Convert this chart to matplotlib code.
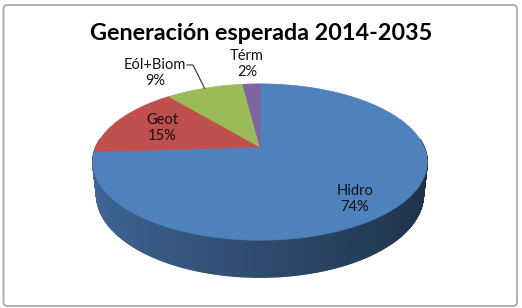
import numpy as np
import matplotlib.pyplot as plt
from matplotlib.patches import FancyBboxPatch
from matplotlib.collections import PolyCollection
from matplotlib.colors import to_rgb

titulo = 'Generación esperada 2014-2035'
fuentes = ['Hidro', 'Geot', 'Eól+Biom', 'Térm']
porcentajes = [74, 15, 9, 2]
colores = ['#4F81BD', '#C0504D', '#9BBB59', '#8064A2']

# posicao dos rotulos (pixels)
pos_rotulos = [(355, 199), (162, 128), (155, 73), (247, 64)]

# parametros da vista 3D
elev = np.radians(27.3)
dist = 4.62
escala = 758
espessura = 0.225
cx, cy = 260, 147


def projeta(x, y, z):
    s, c = np.sin(elev), np.cos(elev)
    prof = dist + y * c - z * s
    u = x / prof
    v = (y * s + z * c) / prof
    return cx + escala * u, cy - escala * v


fig = plt.figure(figsize=(5.22, 3.08), dpi=100)
ax = fig.add_axes([0, 0, 1, 1])
ax.set_xlim(0, 522)
ax.set_ylim(308, 0)
ax.axis('off')

# borda do grafico
borda = FancyBboxPatch((3.5, 5), 513.5, 301, boxstyle='round,pad=0,rounding_size=4',
                       facecolor='white', edgecolor='#a9a9a9', linewidth=1.3)
ax.add_patch(borda)

fracs = np.array(porcentajes, dtype=float) / sum(porcentajes)
acum = np.concatenate([[0], np.cumsum(fracs)])
ang_ini = np.radians(90 - 360 * acum[:-1])
ang_fim = np.radians(90 - 360 * acum[1:])

# paredes laterais
quads, cores_q, profs = [], [], []
for i in range(len(fuentes)):
    base = np.array(to_rgb(colores[i]))
    ts = np.linspace(ang_ini[i], ang_fim[i], max(int(abs(ang_fim[i] - ang_ini[i]) * 80), 3))
    for t1, t2 in zip(ts[:-1], ts[1:]):
        tm = (t1 + t2) / 2
        if np.sin(tm) > 0.1:
            continue
        pts = [projeta(np.cos(t1), np.sin(t1), 0), projeta(np.cos(t2), np.sin(t2), 0),
               projeta(np.cos(t2), np.sin(t2), -espessura), projeta(np.cos(t1), np.sin(t1), -espessura)]
        fator = 0.585 - 0.21 * np.cos(tm)
        quads.append(pts)
        cores_q.append(np.clip(base * fator, 0, 1))
        profs.append(np.sin(tm))

ordem = np.argsort(profs)[::-1]
paredes = PolyCollection([quads[k] for k in ordem], facecolors=[cores_q[k] for k in ordem],
                         edgecolors=[cores_q[k] for k in ordem], linewidths=1.0)
ax.add_collection(paredes)

# faces de cima
for i in range(len(fuentes)):
    ts = np.linspace(ang_ini[i], ang_fim[i], 200)
    xs, ys = projeta(np.cos(ts), np.sin(ts), 0 * ts)
    px = np.concatenate([[cx], xs])
    py = np.concatenate([[cy], ys])
    ax.fill(px, py, color=colores[i], linewidth=0.5, edgecolor=colores[i])

# rotulos
for i, nome in enumerate(fuentes):
    x, y = pos_rotulos[i]
    ax.text(x, y, f'{nome}\n{porcentajes[i]}%', ha='center', va='center',
            fontsize=10.5, family='Lato', color='#111111', linespacing=1.25)

# linha guia do Eól+Biom
i = fuentes.index('Eól+Biom')
meio = (ang_ini[i] + ang_fim[i]) / 2
lx, ly = projeta(np.cos(meio), np.sin(meio), 0)
ax.plot([187, 193, lx], [65, 65, ly], color='#404040', linewidth=0.9)

ax.text(261, 34, titulo, ha='center', va='center', fontsize=16.8,
        fontweight='bold', family='Lato', color='black')

fig.savefig('out.png', dpi=100)
